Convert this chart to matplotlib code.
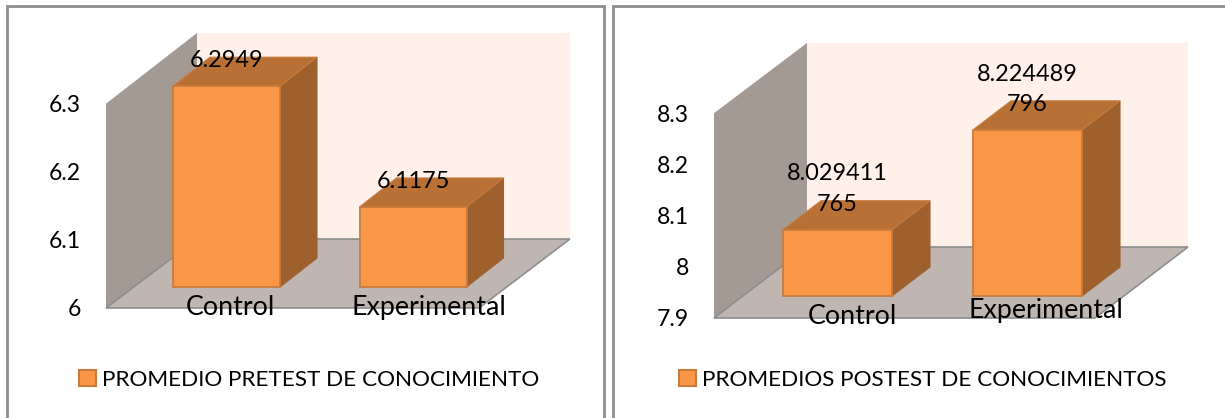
import matplotlib
matplotlib.use("Agg")
import matplotlib.pyplot as plt
from matplotlib.patches import Polygon, Rectangle, Patch

W, H = 1225, 418

categories = ["Control", "Experimental"]

pre_values = [6.2949, 6.1175]
pre_labels = ["6.2949", "6.1175"]
pre_ticks = [6, 6.1, 6.2, 6.3]
pre_ticklabels = ["6", "6.1", "6.2", "6.3"]
pre_legend = "PROMEDIO PRETEST DE CONOCIMIENTO"

post_values = [8.029411765, 8.224489796]
post_labels = ["8.029411\n765", "8.224489\n796"]
post_ticks = [7.9, 8, 8.1, 8.2, 8.3]
post_ticklabels = ["7.9", "8", "8.1", "8.2", "8.3"]
post_legend = "PROMEDIOS POSTEST DE CONOCIMIENTOS"

FRONT = "#F99747"
SIDE = "#9E602C"
TOP = "#B97034"
EDGE = "#C97B3C"
WALL = "#A39A94"
FLOOR = "#BFB5B1"
BACK = "#FFF0E9"
LINE = "#8E8E8E"
FONT = "Lato"
FS_VALUE = 16.9
FS_TICK = 16.6
FS_CAT = 19.3
FS_LEGEND = 16.2


def draw_panel(frame, plot, centers, bar_w, px_per_unit, lift, bar_depth, wall_depth, values, labels, ticks, ticklabels,
               cat_pos, legend_text, legend_x, legend_y):
    # plot = left, right, top, bottom in pixels of the image
    left, right, top, bottom = plot
    ax = fig.add_axes([left / W, 1 - bottom / H, (right - left) / W, (bottom - top) / H])
    ax.patch.set_visible(False)
    for s in ax.spines.values():
        s.set_visible(False)

    unit_x = centers[1] - centers[0]
    y0 = ticks[0]
    ax.set_xlim((left - centers[0]) / unit_x, (right - centers[0]) / unit_x)
    ax.set_ylim(y0, y0 + (bottom - top) / px_per_unit)
    xl = ax.get_xlim()
    yh = ax.get_ylim()[1]

    dx_wall = wall_depth[0] / unit_x
    dy_wall = wall_depth[1] / px_per_unit
    dx_bar = bar_depth[0] / unit_x
    dy_bar = bar_depth[1] / px_per_unit
    wall_top = ticks[-1]
    base = y0 + lift / px_per_unit
    w = bar_w / unit_x

    # back wall, side wall, floor
    ax.add_patch(Polygon([(xl[0] + dx_wall, y0 + dy_wall), (xl[1], y0 + dy_wall), (xl[1], yh), (xl[0] + dx_wall, yh)],
                         fc=BACK, ec="none", zorder=1))
    ax.add_patch(Polygon([(xl[0], y0), (xl[0] + dx_wall, y0 + dy_wall), (xl[0] + dx_wall, yh), (xl[0], wall_top)],
                         fc=WALL, ec="none", zorder=2))
    ax.add_patch(Polygon([(xl[0], y0), (xl[1] - dx_wall, y0), (xl[1], y0 + dy_wall), (xl[0] + dx_wall, y0 + dy_wall)],
                         fc=FLOOR, ec=LINE, lw=1.2, zorder=2, clip_on=False))

    ax.bar(range(len(values)), [v - y0 for v in values], width=w, bottom=base, color=FRONT, edgecolor=EDGE,
           linewidth=1.3, zorder=4, label=legend_text)

    for i, v in enumerate(values):
        t = v + lift / px_per_unit
        ax.add_patch(Polygon([(i + w / 2, base), (i + w / 2 + dx_bar, base + dy_bar), (i + w / 2 + dx_bar, t + dy_bar), (i + w / 2, t)],
                             fc=SIDE, ec=SIDE, lw=0.8, zorder=3))
        ax.add_patch(Polygon([(i - w / 2, t), (i + w / 2, t), (i + w / 2 + dx_bar, t + dy_bar), (i - w / 2 + dx_bar, t + dy_bar)],
                             fc=TOP, ec=EDGE, lw=0.8, zorder=3))
        ax.text(i, t + dy_bar - 10 / px_per_unit, labels[i], ha="center", va="baseline", fontsize=FS_VALUE, family=FONT,
                color="black", linespacing=1.55, zorder=6)

    ax.set_xticks([])
    ax.set_yticks(ticks)
    ax.set_yticklabels(ticklabels, fontsize=FS_TICK, family=FONT, color="black")
    ax.tick_params(axis="y", length=0, pad=18)

    # category labels sit on the floor edge, cy is the baseline
    for name, (cx, cy) in zip(categories, cat_pos):
        ax.text((cx - centers[0]) / unit_x, y0 + (bottom - cy) / px_per_unit, name, ha="center", va="baseline",
                fontsize=FS_CAT, family=FONT, color="black", zorder=6)

    fig.legend(handles=[Patch(fc=FRONT, ec=EDGE, lw=1.5, label=legend_text)], loc="center left",
               bbox_to_anchor=(legend_x / W, 1 - legend_y / H), frameon=False, borderpad=0, borderaxespad=0,
               handlelength=0.75, handleheight=0.75, handletextpad=0.27, prop={"family": FONT, "size": FS_LEGEND})

    fig.add_artist(Rectangle((frame[0] / W, 1 - frame[3] / H), (frame[1] - frame[0]) / W, (frame[3] - frame[2]) / H,
                             transform=fig.transFigure, fc="none", ec=LINE, lw=2, clip_on=True))


fig = plt.figure(figsize=(W / 100, H / 100), dpi=100)

draw_panel((7, 604, 6, 440), (106, 570, 33, 308), (226.5, 413), 107, 681, 21, (37, 29), (91, 69),
           pre_values, pre_labels, pre_ticks, pre_ticklabels,
           [(230, 315), (429, 315)], pre_legend, 79, 380)

draw_panel((613, 1240, 6, 440), (714, 1188, 43, 318), (837.5, 1027.5), 109, 512, 22, (38, 29), (93, 71),
           post_values, post_labels, post_ticks, post_ticklabels,
           [(852, 324), (1046, 318)], post_legend, 679, 380)

fig.savefig("out.png", dpi=100)
